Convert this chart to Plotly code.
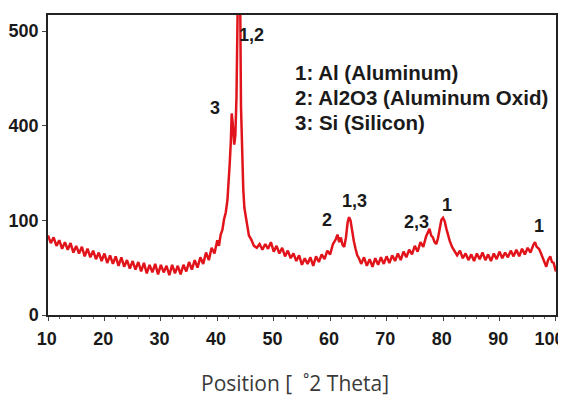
import numpy as np
import plotly.graph_objects as go

# 2-theta positions (degrees) and intensities
two_theta = [
    10.0, 10.5, 11.0, 11.5, 12.0, 12.5, 13.0, 13.5, 14.0, 14.5, 15.0, 15.5, 16.0, 16.5, 17.0, 17.5,
    18.0, 18.5, 19.0, 19.5, 20.0, 20.5, 21.0, 21.5, 22.0, 22.5, 23.0, 23.5, 24.0, 24.5, 25.0, 25.5,
    26.0, 26.5, 27.0, 27.5, 28.0, 28.5, 29.0, 29.5, 30.0, 30.5, 31.0, 31.5, 32.0, 32.5, 33.0, 33.5,
    34.0, 34.5, 35.0, 35.5, 36.0, 36.5, 37.0, 37.5, 38.0, 38.5, 39.0, 39.5, 40.0,
    40.3, 40.6, 40.9, 41.2, 41.5, 41.8, 42.0, 42.2, 42.4, 42.55, 42.7, 42.85, 43.0, 43.2, 43.4,
    43.6, 43.8, 44.0, 44.2, 44.4, 44.6, 44.8, 45.0, 45.3, 45.6, 46.0, 46.5, 47.0, 47.5, 48.0,
    48.5, 49.0, 49.5, 50.0, 50.5, 51.0, 51.5, 52.0, 52.5, 53.0, 53.5, 54.0, 54.5, 55.0, 55.5,
    56.0, 56.5, 57.0, 57.5, 58.0, 58.5, 59.0, 59.5, 60.0, 60.5, 61.0, 61.3, 61.6, 61.9, 62.2,
    62.5, 62.8, 63.1, 63.35, 63.6, 63.9, 64.2, 64.5, 64.8, 65.1, 65.5, 66.0, 66.5, 67.0, 67.5,
    68.0, 68.5, 69.0, 69.5, 70.0, 70.5, 71.0, 71.5, 72.0, 72.5, 73.0, 73.5, 74.0, 74.5, 75.0,
    75.5, 76.0, 76.5, 77.0, 77.3, 77.6, 77.9, 78.2, 78.5, 78.8, 79.1, 79.4, 79.7, 80.0, 80.3,
    80.6, 80.9, 81.2, 81.6, 82.0, 82.5, 83.0, 83.5, 84.0, 84.5, 85.0, 85.5, 86.0, 86.5, 87.0,
    87.5, 88.0, 88.5, 89.0, 89.5, 90.0, 90.5, 91.0, 91.5, 92.0, 92.5, 93.0, 93.5, 94.0, 94.5,
    95.0, 95.5, 96.0, 96.3, 96.6, 97.0, 97.3, 97.6, 98.0, 98.3, 98.6, 99.0, 99.3, 99.6, 100.0,
]
intensity = [
    84, 76, 82, 73, 79, 70, 77, 69, 76, 66, 73, 65, 72, 62, 70, 61,
    68, 59, 66, 57, 65, 55, 63, 54, 62, 52, 61, 51, 58, 49, 57, 48,
    56, 46, 55, 44, 53, 45, 54, 43, 53, 45, 52, 42, 53, 44, 52, 43,
    53, 46, 56, 48, 58, 50, 61, 54, 66, 58, 71, 65, 79,
    73, 85, 90, 104, 125, 165, 210, 280, 350, 413, 405, 350, 340, 370, 430,
    520, 600, 580, 420, 310, 200, 140, 112, 95, 84, 80, 73, 71, 75, 69,
    75, 70, 77, 67, 73, 65, 71, 62, 68, 60, 65, 57, 63, 53, 60,
    54, 61, 52, 62, 56, 64, 59, 68, 64, 75, 80, 85, 77, 82, 74,
    72, 82, 98, 110, 100, 88, 78, 70, 63, 60, 54, 61, 52, 59, 51,
    60, 53, 61, 54, 62, 55, 63, 57, 65, 58, 67, 61, 69, 64, 73,
    67, 77, 72, 83, 87, 91, 84, 82, 77, 75, 81, 92, 101, 108, 99,
    91, 84, 78, 72, 68, 63, 68, 60, 65, 58, 64, 57, 65, 59, 66,
    58, 64, 57, 65, 59, 67, 60, 66, 61, 68, 62, 69, 62, 70, 64,
    71, 66, 74, 77, 72, 70, 66, 61, 56, 51, 58, 62, 56, 55, 46,
]

x_ticks = list(range(10, 101, 10))
y_tick_labels = [0, 100, 400, 500]

# peak labels: (text, 2-theta, intensity at label position)
peak_labels = ["3", "1,2", "2", "1,3", "2,3", "1", "1"]
peak_pos = [39.6, 46.0, 59.5, 64.3, 75.3, 80.7, 97.0]
peak_int = [419, 496, 100, 160, 98, 150, 94]

legend_lines = ["1: Al (Aluminum)", "2: Al2O3 (Aluminum Oxid)", "3: Si (Silicon)"]

# the printed intensity axis is piecewise: 0-100, 100-400, 400-500 equally spaced
def axis_pos(v):
    v = np.asarray(v, dtype=float)
    knots = np.array(y_tick_labels, dtype=float)
    out = np.interp(v, knots, np.arange(len(knots)))
    return np.where(v > knots[-1], len(knots) - 1 + (v - knots[-1]) / 100.0, out)

fig = go.Figure()
fig.add_trace(go.Scatter(
    x=two_theta, y=axis_pos(intensity), mode="lines",
    line=dict(color="#e1141b", width=2.5), showlegend=False, hoverinfo="skip",
))

for t, x, v in zip(peak_labels, peak_pos, peak_int):
    fig.add_annotation(x=x, y=float(axis_pos(v)), text=f"<b>{t}</b>", showarrow=False,
                       font=dict(family="Liberation Sans, Arial", size=18, color="#1a1a1a"))

for i, s in enumerate(legend_lines):
    fig.add_annotation(xref="paper", yref="paper", x=0.483, y=0.807 - i * 0.083,
                       xanchor="left", yanchor="middle", showarrow=False,
                       text=f"<b>{s}</b>",
                       font=dict(family="Liberation Sans, Arial", size=20.5, color="#1a1a1a"))

fig.add_annotation(xref="paper", yref="paper", x=0.487, y=-0.227, xanchor="center", yanchor="middle",
                   showarrow=False, text="Position [  ˚2 Theta]",
                   font=dict(family="Open Sans", size=21, color="#3a3a3a"))

axis_font = dict(family="Liberation Sans, Arial", size=18, color="#1a1a1a")
# page body has an 8px margin, so the figure is sized to fit inside the window
fig.update_layout(
    width=558, height=393,
    margin=dict(l=40, r=10, t=7, b=86, autoexpand=False),
    paper_bgcolor="white", plot_bgcolor="white",
    xaxis=dict(range=[10, 100.02], tickvals=x_ticks,
               ticktext=[f"<b>{v}</b>" for v in x_ticks], automargin=False,
               ticklabeloverflow="allow",
               # right-aligned labels shifted back so 2-digit labels sit near-centred
               # and the last one ends just inside the page, as in the original
               ticklabelposition="outside left", ticklabelshift=10,
               showgrid=False, zeroline=False, showline=True, linecolor="#222", linewidth=1.5,
               mirror=True, ticks="outside", ticklen=4, tickcolor="#444",
               minor=dict(ticks="outside", ticklen=2, dtick=2, tickcolor="#666"),
               tickfont=axis_font, ticklabelstandoff=7),
    yaxis=dict(range=[0, 3.17], tickvals=[0, 1, 2, 3], automargin=False,
               ticktext=[f"<b>{v}</b>" for v in y_tick_labels],
               showgrid=False, zeroline=False, showline=True, linecolor="#222", linewidth=1.5,
               mirror=True, ticks="outside", ticklen=4, tickcolor="#444",
               tickfont=axis_font, ticklabelstandoff=0),
)

fig.write_html("out.html")
